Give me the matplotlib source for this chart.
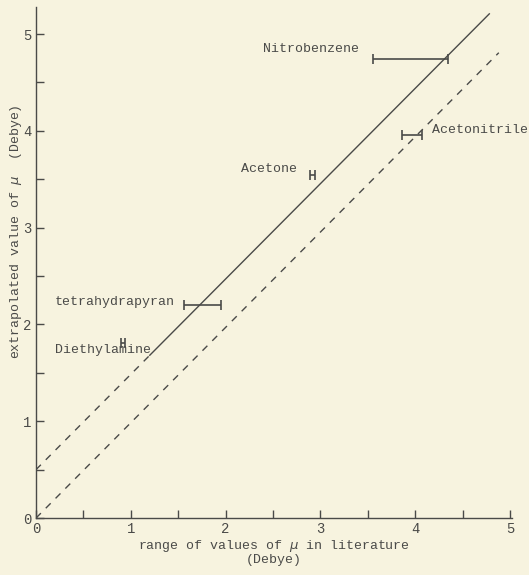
import matplotlib
matplotlib.use('Agg')
import matplotlib.pyplot as plt
import numpy as np

# ─── Data ─────────────────────────────────────────────────────────────────────
compounds = ['Nitrobenzene', 'Acetonitrile', 'Acetone', 'tetrahydrapyran', 'Diethylamine']
lit_low   = [3.55, 3.86, 2.89, 1.56, 0.90]    # literature range, lower end
lit_high  = [4.34, 4.07, 2.94, 1.95, 0.94]    # literature range, upper end
extrap    = [4.74, 3.96, 3.54, 2.20, 1.81]    # extrapolated mu

# hand drawn fit (offset 0.5) and the reference line through the origin
fit_intercept = 0.5
ref_intercept = 0.0
line_slope    = 0.985
fit_solid_x   = [1.20, 4.78]
fit_dash_x    = [0.0, 1.20]
ref_x         = [0.0, 4.88]

# where each name was typed in
label_x = [2.39, 4.18, 2.16, 0.20, 0.20]
label_y = [4.84, 4.01, 3.61, 2.23, 1.74]

x_ticks = [0, 1, 2, 3, 4, 5]
y_ticks = [0, 1, 2, 3, 4, 5]
# ──────────────────────────────────────────────────────────────────────────────

PAPER = '#f7f3df'
INK   = '#4a4a48'
FONT  = ['Liberation Mono', 'DejaVu Sans Mono']

plt.rcParams['font.family'] = FONT

fig = plt.figure(figsize=(5.29, 5.75), dpi=100, facecolor=PAPER)
ax = fig.add_axes([0.068, 0.099, 0.90, 0.889], facecolor=PAPER)

# lines
def line(xs, b):
    xs = np.array(xs)
    return xs, b + line_slope * xs

ax.plot(*line(fit_solid_x, fit_intercept), color=INK, lw=1.0)
ax.plot(*line(fit_dash_x, fit_intercept), color=INK, lw=1.0, dashes=(5, 5))
ax.plot(*line(ref_x, ref_intercept), color=INK, lw=1.0, dashes=(5, 5))

# literature ranges as horizontal bars with end caps
mid = [(lo + hi) / 2 for lo, hi in zip(lit_low, lit_high)]
half = [(hi - lo) / 2 for lo, hi in zip(lit_low, lit_high)]
ax.errorbar(mid, extrap, xerr=half, fmt='none', ecolor=INK,
            elinewidth=1.2, capsize=3.5, capthick=1.2)

for name, lx, ly in zip(compounds, label_x, label_y):
    ax.text(lx, ly, name, fontsize=9.5, color=INK, ha='left', va='center')

ax.set_xlim(0, 5.02)
ax.set_ylim(0, 5.28)
ax.set_xticks(x_ticks)
ax.set_yticks(y_ticks)
ax.set_xticks(np.arange(0.5, 5, 1.0), minor=True)
ax.set_yticks(np.arange(0.5, 5, 1.0), minor=True)
ax.tick_params(which='both', direction='in', length=6, width=1.0, color=INK,
               labelcolor=INK, labelsize=10, pad=3)

for side in ['top', 'right']:
    ax.spines[side].set_visible(False)
for side in ['left', 'bottom']:
    ax.spines[side].set_color(INK)
    ax.spines[side].set_linewidth(1.0)

ax.set_xlabel('range of values of $\\mu$ in literature\n(Debye)',
              fontsize=9.5, color=INK, linespacing=1.05, labelpad=1)
ax.set_ylabel('extrapolated value of $\\mu$  (Debye)',
              fontsize=9.5, color=INK)
ax.yaxis.set_label_coords(-0.026, 0.56)

fig.savefig('out.png', dpi=100, facecolor=PAPER)
